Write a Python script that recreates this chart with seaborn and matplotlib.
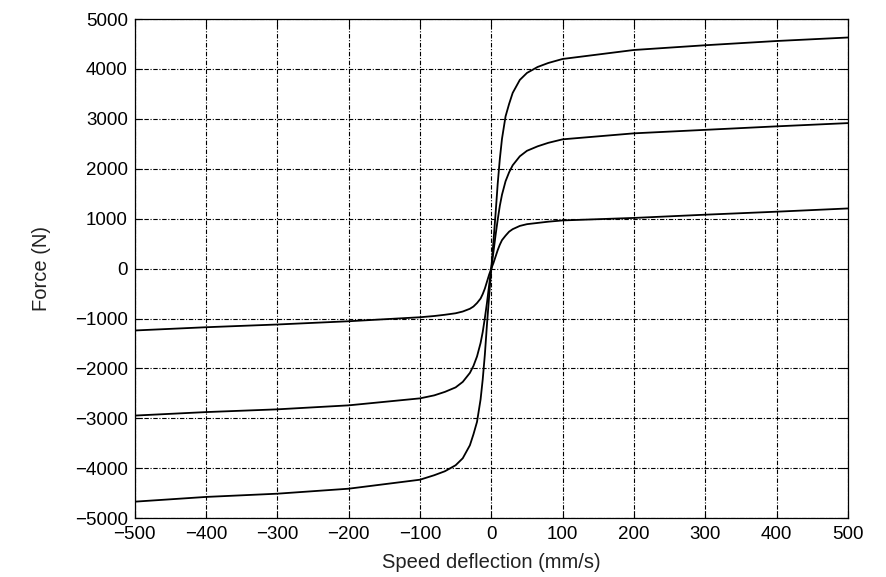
import numpy as np
import pandas as pd
import matplotlib
matplotlib.use('Agg')
import matplotlib.pyplot as plt
import seaborn as sns

# Speed deflection (mm/s) sample points
speed = [-500, -400, -300, -200, -100, -80, -65, -50, -40, -30, -25, -20, -15, -12, -9, -6, -3, 0,
         3, 6, 9, 12, 15, 20, 25, 30, 40, 50, 65, 80, 100, 200, 300, 400, 500]

# Force (N) for the three curves
force_high = [-4670, -4575, -4510, -4410, -4230, -4140, -4060, -3940, -3800, -3540, -3320, -3070, -2620,
              -2220, -1720, -1110, -550, 0,
              540, 1100, 1700, 2200, 2600, 3050, 3300, 3520, 3780, 3920, 4040, 4120, 4200,
              4380, 4475, 4560, 4630]
force_mid = [-2945, -2875, -2820, -2740, -2600, -2540, -2470, -2380, -2270, -2090, -1950, -1760, -1490,
             -1270, -990, -680, -330, 0,
             330, 670, 980, 1260, 1480, 1750, 1930, 2070, 2250, 2360, 2450, 2520, 2590,
             2710, 2780, 2850, 2915]
force_low = [-1240, -1175, -1120, -1055, -975, -950, -925, -895, -860, -805, -760, -690, -600,
             -510, -400, -260, -120, 0,
             110, 240, 370, 480, 570, 660, 740, 790, 855, 890, 915, 940, 965,
             1015, 1080, 1140, 1205]

df = pd.concat([
    pd.DataFrame({'speed': speed, 'force': force_high, 'curve': 'high'}),
    pd.DataFrame({'speed': speed, 'force': force_mid, 'curve': 'mid'}),
    pd.DataFrame({'speed': speed, 'force': force_low, 'curve': 'low'}),
])

sns.set_style('ticks')
plt.rcParams['font.family'] = ['Liberation Sans', 'DejaVu Sans']

fig = plt.figure(figsize=(8.86, 5.77), dpi=100)
ax = fig.add_axes([0.152, 0.102, 0.805, 0.865])

sns.lineplot(data=df, x='speed', y='force', hue='curve', palette=['black'] * 3,
             estimator=None, sort=False, legend=False, linewidth=1.3, ax=ax)

ax.set_xlim(-500, 500)
ax.set_ylim(-5000, 5000)
ax.set_xticks(np.arange(-500, 501, 100))
ax.set_yticks(np.arange(-5000, 5001, 1000))
ax.grid(True, color='black', linestyle=(0, (4, 1.5, 1, 1.5)), linewidth=0.8)
ax.tick_params(direction='in', top=True, right=True, labelsize=13.5,
               colors='black', length=5, width=0.8, pad=5)
ax.tick_params(axis='x', pad=6)
for s in ax.spines.values():
    s.set_color('black')
    s.set_linewidth(0.9)

ax.set_xlabel('Speed deflection (mm/s)', fontsize=14.5, color='#222222', labelpad=7)
ax.set_ylabel('Force (N)', fontsize=14.5, color='#222222', labelpad=17)

fig.savefig('out.png', dpi=100)
